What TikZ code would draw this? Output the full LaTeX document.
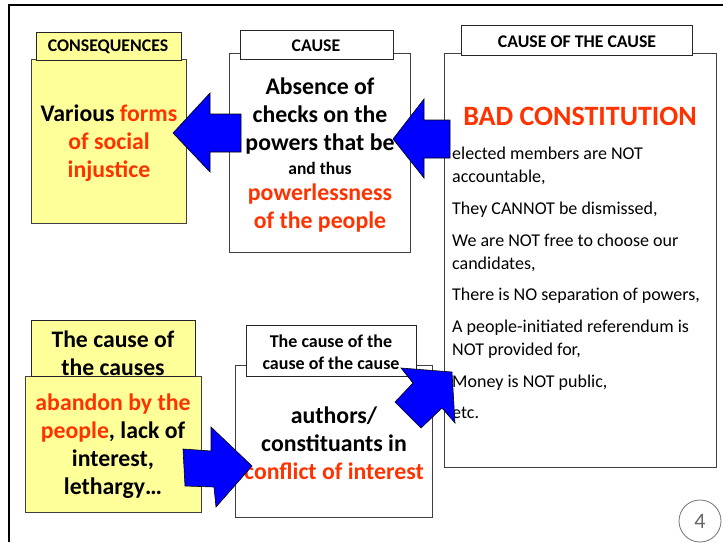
\documentclass[tikz,border=0pt]{standalone}
\usepackage{fontspec}
\setmainfont{Carlito}
\usepackage{tikz}

\definecolor{noteyellow}{HTML}{FFFF99}
\definecolor{causered}{HTML}{FF3300}
\definecolor{arrowblue}{HTML}{0000FF}
\newcommand{\hot}[1]{\textcolor{causered}{#1}}

\tikzset{
    mainbox/.style={draw=black!75, line width=0.8pt},
    tabbox/.style={draw=black!85, line width=0.8pt},
    blockarrow/.style={draw=black, fill=arrowblue, line width=0.6pt, line join=miter},
    tabtext/.style={font=\bfseries\fontsize{17.8}{21}\selectfont, align=center, inner sep=0pt},
    bigtext/.style={font=\bfseries\fontsize{23.8}{28}\selectfont, align=center, inner sep=0pt},
}

\begin{document}
\begin{tikzpicture}[x=1pt, y=-1pt]

    \useasboundingbox (0,0) rectangle (723,542);
    \fill[white] (0,0) rectangle (723,542);

    % Slide frame (only the top and left edges are visible)
    \draw[line width=1.8pt] (9,542) -- (9,5) -- (723,5);

    % Boxes of the upper row
    \filldraw[mainbox, fill=noteyellow] (31,59) rectangle (186,223);
    \filldraw[tabbox, fill=noteyellow] (36,32) rectangle (181,60);
    \filldraw[mainbox, fill=white] (229,53) rectangle (410,252);
    \filldraw[tabbox, fill=white] (240,30) rectangle (393,59);
    \filldraw[mainbox, fill=white] (444,53) rectangle (716,467);
    \filldraw[tabbox, fill=white] (461,25) rectangle (692,55);

    % Boxes of the lower row
    \filldraw[mainbox, fill=noteyellow] (25,376) rectangle (201,512);
    \filldraw[tabbox, fill=noteyellow] (31,320) rectangle (195,376);
    \filldraw[mainbox, fill=white] (235,365) rectangle (432,517);
    \filldraw[tabbox, fill=white] (246,325) rectangle (416,376);

    % Headings
    \node[tabtext] (conshead) at (108,47) {CONSEQUENCES};
    \node[tabtext] (causehead) at (316,46) {CAUSE};
    \node[tabtext] (cochead) at (577,42) {CAUSE OF THE CAUSE};
    \node[bigtext, font=\bfseries\fontsize{23.7}{28}\selectfont] (rootshead) at (113,353)
        {The cause of\\the causes};
    \node[tabtext, font=\bfseries\fontsize{18}{22}\selectfont] (cocochead) at (331,352)
        {The cause of the\\cause of the cause};

    % Texts of the upper row
    \node[bigtext] (constext) at (109,143)
        {Various \hot{forms}\\\hot{of social}\\\hot{injustice}};
    \node[bigtext] (causetop) at (320,116)
        {Absence of\\checks on the\\powers that be};
    \node[bigtext, font=\bfseries\fontsize{17.5}{20}\selectfont] (causeand) at (320,168) {and thus};
    \node[bigtext, text=causered] (causebottom) at (320,208)
        {powerlessness\\of the people};
    \node[bigtext, font=\bfseries\fontsize{28}{32}\selectfont, text=causered] (badconst) at (580,116)
        {BAD CONSTITUTION};
    \node[anchor=north west, align=left, inner sep=0pt, font=\fontsize{18}{23}\selectfont] (coclist) at (452,147)
        {elected members are NOT\\accountable,\\[8.7pt]
         They CANNOT be dismissed,\\[8.7pt]
         We are NOT free to choose our\\candidates,\\[8.7pt]
         There is NO separation of powers,\\[8.7pt]
         A people-initiated referendum is\\NOT provided for,\\[8.7pt]
         Money is NOT public,\\[8.7pt]
         etc.};

    % Texts of the lower row
    \node[bigtext] (rootstext) at (113,446)
        {\hot{abandon by the}\\\hot{people}, lack of\\interest,\\lethargy…};
    \node[bigtext] (cococtext) at (334,443)
        {authors/\\constituants in\\\hot{conflict of interest}};

    % Block arrows
    \filldraw[blockarrow] (241,114) -- (210,114) -- (210,93) -- (173,133)
        -- (210,172) -- (210,152) -- (241,152) -- cycle;
    \filldraw[blockarrow] (450,120) -- (424,120) -- (424,99) -- (393,139)
        -- (424,178) -- (424,158) -- (450,158) -- cycle;
    \filldraw[blockarrow] (183,449) -- (211,451) -- (211,427) -- (252,466)
        -- (216,507) -- (214,487) -- (185,486) -- cycle;
    \filldraw[blockarrow] (401,368) -- (452,372) -- (455,423) -- (442,408)
        -- (421,428) -- (395,402) -- (413,383) -- cycle;

    % Slide number
    \draw[black!55, line width=0.8pt] (700,521) circle (21);
    \node[text=black!60, font=\fontsize{22}{24}\selectfont] (slideno) at (700,521) {4};

\end{tikzpicture}
\end{document}
